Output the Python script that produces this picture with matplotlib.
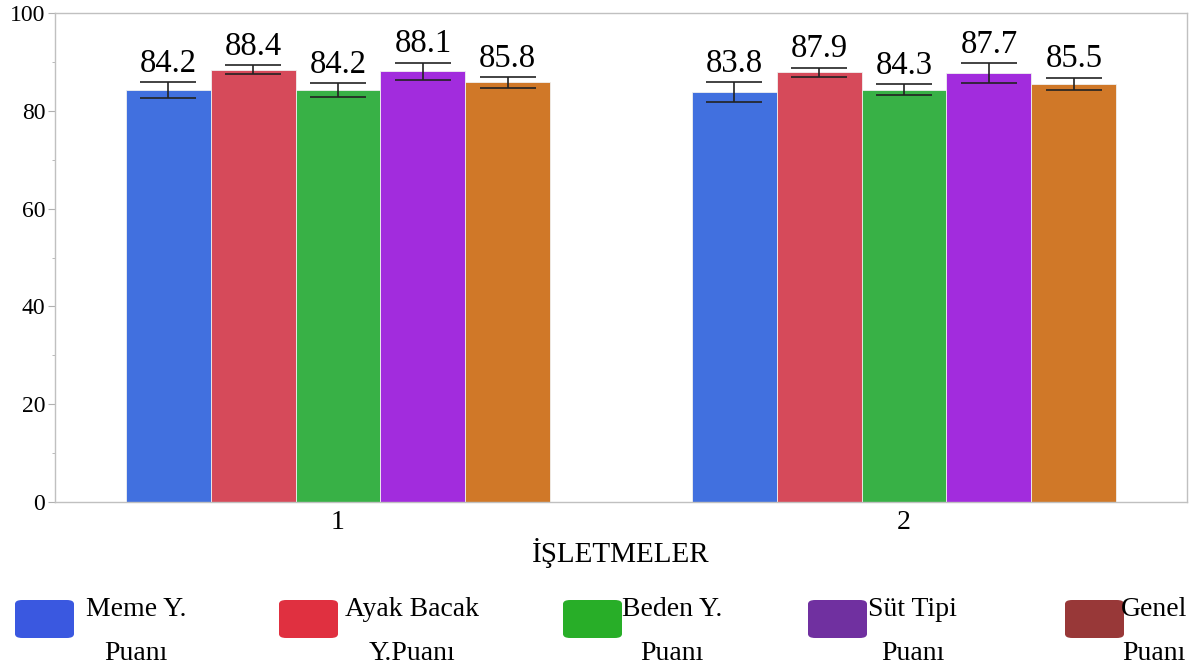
import matplotlib
matplotlib.use("Agg")
import matplotlib.pyplot as plt
from matplotlib.patches import FancyBboxPatch
import numpy as np

plt.rcParams['font.family'] = ['Liberation Serif', 'DejaVu Serif']

groups = ["1", "2"]
series = ["Meme Y.\nPuanı", "Ayak Bacak\nY.Puanı", "Beden Y.\nPuanı", "Süt Tipi\nPuanı", "Genel\nPuanı"]
means = [
    [84.2, 83.8],
    [88.4, 87.9],
    [84.2, 84.3],
    [88.1, 87.7],
    [85.8, 85.5],
]
errors = [
    [1.6, 2.0],
    [0.95, 0.95],
    [1.4, 1.15],
    [1.75, 2.05],
    [1.05, 1.3],
]
bar_colors = ["#4170DF", "#D64A5A", "#38B146", "#A22CDD", "#D07828"]
legend_colors = ["#3A58E0", "#E03040", "#28AE28", "#7030A0", "#983838"]

fig = plt.figure(figsize=(11.95, 6.68), dpi=100)
W, H = 1195, 668
ax = fig.add_axes([55 / W, (H - 502) / H, (1187 - 55) / W, (502 - 13) / H])

x = np.arange(len(groups))
bw = 0.15
for i, (m, e, c) in enumerate(zip(means, errors, bar_colors)):
    pos = x + (i - 2) * bw
    ax.bar(pos, m, width=bw, color=c, edgecolor="#f0f0f0", linewidth=0.6, zorder=2)
    ax.errorbar(pos, m, yerr=e, fmt="none", ecolor="#222222", elinewidth=1.2,
                capsize=20, capthick=1.2, zorder=3)
    for p, v, err in zip(pos, m, e):
        ax.annotate(f"{v:.1f}", (p, v + err), xytext=(0, 2.5), textcoords="offset points",
                    ha="center", va="bottom", fontsize=23.5, color="black", zorder=4)

ax.set_xlim(-0.5, len(groups) - 0.5)
ax.set_ylim(0, 100)
ax.set_xticks(x)
ax.set_xticklabels(groups, fontsize=20)
ax.set_yticks(np.arange(0, 101, 20))
ax.set_yticks(np.arange(10, 100, 20), minor=True)
ax.tick_params(axis="y", which="major", labelsize=17, length=5, color="#b0b0b0", pad=2)
ax.tick_params(axis="y", which="minor", length=2, color="#b0b0b0")
ax.tick_params(axis="x", length=0, pad=6)
for s in ax.spines.values():
    s.set_color("#c0c0c0")
    s.set_linewidth(1)
ax.set_xlabel("İŞLETMELER", fontsize=21, labelpad=2)

# legend
patch_x = [15, 279, 563, 808, 1065]
text_cx = [136, 412, 672, 913, 1154]
for px, tcx, lab, col in zip(patch_x, text_cx, series, legend_colors):
    p = FancyBboxPatch((px / W, 1 - 638 / H), 59 / W, 38 / H,
                       boxstyle="round,pad=0,rounding_size=0.006",
                       transform=fig.transFigure, facecolor=col, edgecolor="none")
    fig.patches.append(p)
    l1, l2 = lab.split("\n")
    fig.text(tcx / W, 1 - 609 / H, l1, ha="center", va="center", fontsize=20)
    fig.text(tcx / W, 1 - 653 / H, l2, ha="center", va="center", fontsize=20)

fig.savefig("out.png", dpi=100)
